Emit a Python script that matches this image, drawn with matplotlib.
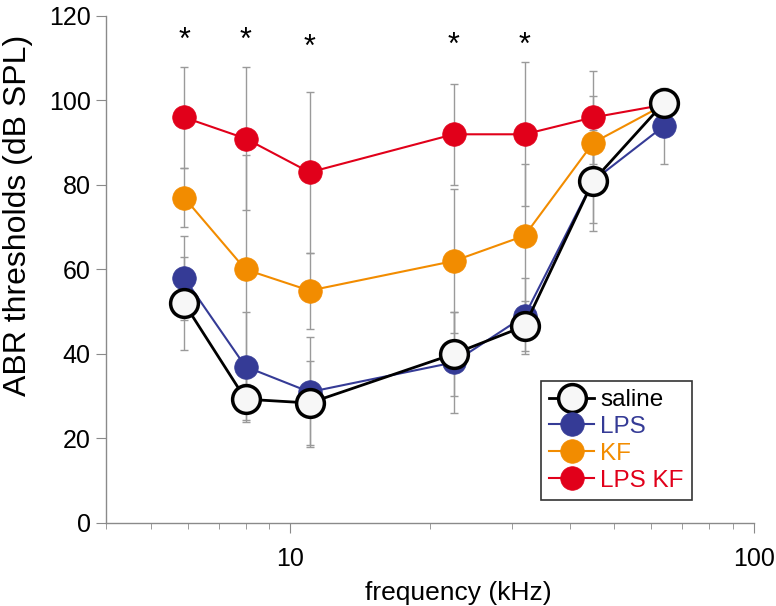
import matplotlib
matplotlib.use("Agg")
import matplotlib.pyplot as plt
from matplotlib.ticker import LogLocator, FixedLocator, NullFormatter

plt.rcParams['font.family'] = ['Liberation Sans', 'DejaVu Sans']

freq = [5.9, 8, 11, 22.5, 32, 45, 64]
saline = [52, 29.3, 28.4, 40, 46.6, 81, 99.5]
lps = [58, 37, 31, 38, 49, 81, 94]
kf = [77, 60, 55, 62, 68, 90, 99]
lps_kf = [96, 91, 83, 92, 92, 96, 99]
sd_saline = [11, 5, 10, 10, 6, 12, 3]
sd_lps = [10, 13, 13, 12, 9, 10, 9]
sd_kf = [7, 27, 9, 17, 17, 11, 2]
sd_lps_kf = [12, 17, 19, 12, 17, 11, 2]
star_x = [5.9, 8, 11, 22.5, 32]
star_y = [114, 114, 112.5, 113, 113]

series = [
    ("LPS KF", lps_kf, sd_lps_kf, "#e1001a", "#e1001a", "#e1001a"),
    ("KF", kf, sd_kf, "#f28c00", "#f28c00", "#f28c00"),
    ("LPS", lps, sd_lps, "#353b96", "#353b96", "#353b96"),
    ("saline", saline, sd_saline, "#000000", "#f7f7f7", "#000000"),
]

fig = plt.figure(figsize=(7.76, 6.06), dpi=100)
ax = fig.add_axes([0.1366, 0.137, 0.835, 0.8366])

for name, y, sd, c, fc, ec in series:
    ax.errorbar(freq, y, yerr=sd, fmt='none', ecolor='#9a9a9a', elinewidth=1.0,
                capsize=3, capthick=1.0, zorder=1)

handles = {}
for i, (name, y, sd, c, fc, ec) in enumerate(series):
    if name == "saline":
        h, = ax.plot(freq, y, '-', color=c, lw=2.0, marker='o', ms=20,
                     mfc=fc, mec=ec, mew=2.5, zorder=10)
    else:
        h, = ax.plot(freq, y, '-', color=c, lw=1.5, marker='o', ms=17,
                     mfc=fc, mec=ec, mew=0.5, zorder=3 + i)
    handles[name] = h

for sx, sy in zip(star_x, star_y):
    ax.text(sx, sy, '*', ha='center', va='center', fontsize=22, color='black')

ax.set_xscale('log')
ax.set_xlim(4, 100)
ax.set_ylim(0, 120)
ax.set_yticks([0, 20, 40, 60, 80, 100, 120])
ax.xaxis.set_major_locator(FixedLocator([10, 100]))
ax.set_xticklabels(['10', '100'])
ax.xaxis.set_minor_locator(LogLocator(base=10, subs=range(2, 10)))
ax.xaxis.set_minor_formatter(NullFormatter())

for s in ['top', 'right']:
    ax.spines[s].set_visible(False)
for s in ['left', 'bottom']:
    ax.spines[s].set_color('#8a8a8a')
    ax.spines[s].set_linewidth(1.0)
ax.tick_params(axis='both', which='major', color='#8a8a8a', length=7,
               labelsize=18, pad=4)
ax.tick_params(axis='x', which='minor', color='#8a8a8a', length=4)
ax.tick_params(axis='x', which='major', pad=10)

ax.set_xlabel('frequency (kHz)', fontsize=19)
ax.set_ylabel('ABR thresholds (dB SPL)', fontsize=23)
ax.xaxis.set_label_coords(0.543, -0.115)
ax.yaxis.set_label_coords(-0.112, 0.607)

order = ["saline", "LPS", "KF", "LPS KF"]
leg = ax.legend([handles[n] for n in order], order, loc='lower left',
                bbox_to_anchor=(0.671, 0.045), fontsize=17.5, frameon=True,
                fancybox=False, edgecolor='black', handlelength=1.85,
                markerscale=1.0, borderpad=0.35, labelspacing=0.2,
                handletextpad=0.25, borderaxespad=0)
leg.get_frame().set_linewidth(1.2)
colors = {"saline": "black", "LPS": "#353b96", "KF": "#f28c00", "LPS KF": "#e1001a"}
for t in leg.get_texts():
    t.set_color(colors[t.get_text()])

fig.savefig('out.png', dpi=100)
